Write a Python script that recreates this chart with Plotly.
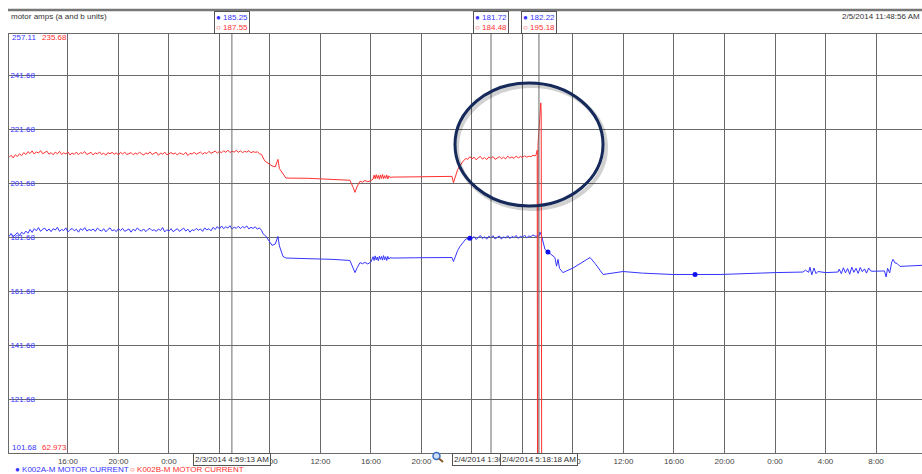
import pandas as pd
import plotly.graph_objects as go

# ---------------- data ----------------
X_RANGE = ["2014-02-02 11:20", "2014-02-05 11:38:30"]
Y_A_RANGE = [101.68, 257.11]     # K002A axis (blue)
Y_B_RANGE = [62.973, 235.68]     # K002B axis (red)
Y_A_TICKS = [121.68, 141.68, 161.68, 181.68, 201.68, 221.68, 241.68]

# K002A-M (blue) ---------------------------------------------
blue_seg1_start = "2014-02-02 11:20"   # 10-min samples
blue_seg1 = [182.0, 183.1, 181.9, 182.8, 183.4, 182.3, 183.6, 182.9, 184.0, 183.2,
             184.6, 183.5, 184.9, 184.1, 185.3, 183.9, 184.7, 185.1, 184.0, 184.8,
             183.8, 184.9, 184.4, 185.4, 183.9, 184.6, 184.2, 185.2, 183.7, 184.5,
             185.0, 184.1, 184.7, 183.6, 184.9, 184.3, 185.3, 184.0, 184.6, 184.2,
             184.8, 183.9, 185.1, 184.4, 184.0, 184.9, 183.7, 184.6, 185.2, 184.1,
             184.5, 183.8, 184.9, 184.2, 185.0, 183.9, 184.4, 184.8, 183.6, 184.7,
             184.1, 185.2, 184.3, 184.0, 184.8, 183.8, 184.6, 185.0, 184.2, 184.5,
             183.9, 184.8, 184.2, 185.3, 183.7, 184.5, 184.0, 184.9, 183.8, 184.4,
             184.9, 183.9, 184.6, 185.1, 184.0, 184.7, 183.6, 184.5, 184.2, 185.0,
             184.3, 184.8, 183.9, 185.2, 184.4, 184.9, 184.1, 185.4, 184.6, 185.7,
             184.8, 185.9, 184.9, 185.6, 185.1, 186.0, 184.7, 185.5, 185.0, 185.8,
             184.9, 185.7, 185.2, 185.9, 184.8, 185.4, 185.0, 185.6, 184.7, 185.2,
             184.3]
blue_pts1 = [("2014-02-03 07:27", 183.0), ("2014-02-03 07:40", 182.2), ("2014-02-03 07:55", 180.3),
             ("2014-02-03 08:10", 178.7), ("2014-02-03 08:25", 179.2), ("2014-02-03 08:38", 182.0),
             ("2014-02-03 08:45", 178.5), ("2014-02-03 09:02", 174.6), ("2014-02-03 09:16", 174.0),
             ("2014-02-03 11:00", 173.8), ("2014-02-03 13:00", 173.5), ("2014-02-03 14:20", 173.1),
             ("2014-02-03 14:35", 170.6), ("2014-02-03 14:44", 168.6), ("2014-02-03 14:55", 170.5),
             ("2014-02-03 15:08", 172.3), ("2014-02-03 15:20", 171.9), ("2014-02-03 15:31", 172.4),
             ("2014-02-03 15:45", 171.8), ("2014-02-03 16:00", 172.6)]
blue_seg2_start = "2014-02-03 16:10"   # 5-min samples
blue_seg2 = [174.5, 173.1, 174.8, 173.3, 174.4, 173.0, 174.7, 173.5, 174.6, 173.2,
             174.9, 173.4, 174.5, 173.1, 174.6, 173.6, 174.1]
blue_pts2 = [("2014-02-03 17:45", 174.0), ("2014-02-03 19:30", 174.1), ("2014-02-03 22:25", 174.2),
             ("2014-02-03 22:32", 172.7), ("2014-02-03 22:40", 174.4), ("2014-02-03 22:52", 176.8),
             ("2014-02-03 23:03", 178.3), ("2014-02-03 23:20", 180.2), ("2014-02-03 23:32", 181.2)]
blue_seg3_start = "2014-02-03 23:40"   # 10-min samples
blue_seg3 = [181.0, 182.2, 181.3, 182.0, 180.9, 181.8, 182.4, 181.2, 181.9, 181.0,
             182.1, 181.5, 182.3, 181.1, 181.7, 182.2, 181.0, 181.9, 181.4, 182.3,
             181.2, 182.0, 181.6, 182.4, 181.3, 182.1, 181.7, 182.5, 181.5, 182.2,
             181.9, 182.6, 182.1]
blue_pts3 = [("2014-02-04 05:10", 182.3), ("2014-02-04 05:18", 182.2), ("2014-02-04 05:23", 183.6),
             ("2014-02-04 05:30", 182.4), ("2014-02-04 05:47", 177.2), ("2014-02-04 06:01", 176.2),
             ("2014-02-04 06:20", 174.9), ("2014-02-04 06:34", 174.2), ("2014-02-04 06:42", 171.0),
             ("2014-02-04 06:49", 173.5), ("2014-02-04 06:56", 170.2), ("2014-02-04 07:12", 168.6),
             ("2014-02-04 08:00", 170.3), ("2014-02-04 08:45", 172.3), ("2014-02-04 09:21", 174.2),
             ("2014-02-04 09:45", 172.0), ("2014-02-04 10:23", 167.9), ("2014-02-04 11:58", 169.0),
             ("2014-02-04 13:30", 168.4), ("2014-02-04 15:55", 167.9), ("2014-02-04 17:40", 167.9),
             ("2014-02-04 19:39", 167.9), ("2014-02-05 00:00", 168.6), ("2014-02-05 02:13", 168.8),
             ("2014-02-05 02:25", 169.5), ("2014-02-05 02:40", 168.7), ("2014-02-05 02:46", 170.6),
             ("2014-02-05 02:55", 167.8), ("2014-02-05 03:05", 170.3), ("2014-02-05 03:15", 168.2),
             ("2014-02-05 03:24", 169.0), ("2014-02-05 04:00", 168.6), ("2014-02-05 04:59", 168.8)]
blue_seg4_start = "2014-02-05 05:05"   # 10-min samples
blue_seg4 = [169.9, 168.2, 170.4, 168.5, 170.1, 168.0, 170.6, 168.7, 170.2, 168.3,
             170.5, 168.9, 170.0, 168.4, 170.3, 169.2]
blue_pts4 = [("2014-02-05 07:41", 169.1), ("2014-02-05 08:40", 169.2), ("2014-02-05 08:48", 167.0),
             ("2014-02-05 08:55", 170.2), ("2014-02-05 09:05", 168.5), ("2014-02-05 09:15", 172.6),
             ("2014-02-05 09:21", 173.5), ("2014-02-05 09:30", 172.2), ("2014-02-05 09:40", 172.0),
             ("2014-02-05 09:54", 170.9), ("2014-02-05 11:00", 171.1), ("2014-02-05 11:40", 171.3)]
blue_dots = [("2014-02-03 23:50", 181.3), ("2014-02-04 06:01", 176.2), ("2014-02-04 17:40", 167.9)]

# K002B-M (red) ----------------------------------------------
red_seg1_start = "2014-02-02 11:20"    # 10-min samples
red_seg1 = [184.8, 185.7, 184.6, 185.9, 185.2, 186.3, 185.5, 186.8, 186.0, 187.2,
            186.4, 187.5, 186.2, 187.1, 186.6, 187.6, 186.3, 186.9, 187.4, 186.1,
            186.8, 185.9, 187.0, 186.3, 187.3, 186.0, 186.7, 186.2, 187.1, 185.8,
            186.6, 186.1, 187.0, 185.9, 186.8, 186.4, 187.2, 186.0, 186.5, 186.9,
            185.8, 186.7, 186.2, 187.1, 186.0, 186.6, 185.7, 186.8, 186.3, 186.9,
            186.1, 186.7, 185.8, 186.9, 186.2, 187.0, 186.0, 186.5, 186.8, 185.9,
            186.6, 186.1, 187.0, 186.3, 185.8, 186.7, 186.2, 187.1, 186.0, 186.5,
            186.9, 185.7, 186.6, 186.1, 187.0, 185.9, 186.4, 186.8, 186.2, 186.6,
            185.8, 186.7, 186.3, 186.0, 186.9, 185.6, 186.5, 186.2, 186.9, 186.1,
            186.6, 187.0, 186.2, 186.8, 186.4, 187.3, 186.5, 186.9, 187.4, 186.6,
            187.3, 186.7, 187.6, 186.9, 187.8, 186.8, 187.4, 187.0, 187.7, 186.9,
            187.5, 186.8, 187.3, 187.0, 187.6, 186.7, 187.2, 186.9, 187.1, 186.4,
            186.0]
red_pts1 = [("2014-02-03 07:35", 183.4), ("2014-02-03 07:50", 182.6), ("2014-02-03 08:10", 181.3),
            ("2014-02-03 08:25", 180.9), ("2014-02-03 08:38", 184.0), ("2014-02-03 08:45", 180.2),
            ("2014-02-03 09:02", 177.9), ("2014-02-03 09:16", 176.3), ("2014-02-03 11:00", 176.2),
            ("2014-02-03 13:00", 175.8), ("2014-02-03 14:20", 175.4), ("2014-02-03 14:35", 172.5),
            ("2014-02-03 14:44", 170.4), ("2014-02-03 14:55", 173.0), ("2014-02-03 15:08", 175.0),
            ("2014-02-03 15:20", 174.6), ("2014-02-03 15:31", 175.3), ("2014-02-03 15:45", 174.8),
            ("2014-02-03 16:00", 175.2)]
red_seg2_start = "2014-02-03 16:10"    # 5-min samples
red_seg2 = [175.9, 177.5, 176.0, 177.7, 176.2, 177.4, 175.8, 177.6, 176.1, 177.8,
            176.0, 177.3, 176.2, 177.6, 175.9, 177.2, 176.6]
red_pts2 = [("2014-02-03 17:45", 176.7), ("2014-02-03 19:30", 176.8), ("2014-02-03 22:25", 177.0),
            ("2014-02-03 22:32", 174.4), ("2014-02-03 22:40", 176.5), ("2014-02-03 22:52", 179.8),
            ("2014-02-03 23:03", 181.4), ("2014-02-03 23:20", 183.5), ("2014-02-03 23:32", 184.4)]
red_seg3_start = "2014-02-03 23:40"    # 10-min samples
red_seg3 = [184.0, 185.1, 184.2, 184.9, 183.8, 184.7, 185.2, 184.1, 184.8, 183.9,
            185.0, 184.4, 185.2, 184.0, 184.6, 185.1, 184.3, 184.9, 184.2, 185.3,
            184.5, 185.0, 184.4, 185.4, 184.6, 185.2, 184.8, 185.5, 184.9, 185.3,
            185.1, 185.7, 185.4]
red_pts3 = [("2014-02-04 05:06", 186.2), ("2014-02-04 05:10", 187.8), ("2014-02-04 05:12", 0.0),
            ("2014-02-04 05:14", 190.5), ("2014-02-04 05:18", 195.2), ("2014-02-04 05:21", 200.0),
            ("2014-02-04 05:24", 203.5), ("2014-02-04 05:27", 207.3), ("2014-02-04 05:29", 203.0),
            ("2014-02-04 05:32", 0.0)]

# cursors
cursor_times = ["2014-02-03 04:59:13", "2014-02-04 01:30:27", "2014-02-04 05:18:18"]
cursor_a = ["185.25", "181.72", "182.22"]
cursor_b = ["187.55", "184.48", "195.18"]
cursor_labels = ["2/3/2014 4:59:13 AM", "2/4/2014 1:30:27 AM", "2/4/2014 5:18:18 AM"]

title_text = "motor amps (a and b units)"
stamp_text = "2/5/2014 11:48:56 AM"
name_a = "K002A-M MOTOR CURRENT"
name_b = "K002B-M MOTOR CURRENT"

# ---------------- assemble ----------------
def grid(start, step_min, vals):
    ts = pd.date_range(start, periods=len(vals), freq=f"{step_min}min")
    return list(ts), list(vals)

def pts(p):
    return [pd.Timestamp(a) for a, _ in p], [b for _, b in p]

def build(parts):
    t, v = [], []
    for tt, vv in parts:
        t += tt
        v += vv
    return t, v

bt, bv = build([grid(blue_seg1_start, 10, blue_seg1), pts(blue_pts1),
                grid(blue_seg2_start, 5, blue_seg2), pts(blue_pts2),
                grid(blue_seg3_start, 10, blue_seg3), pts(blue_pts3),
                grid(blue_seg4_start, 10, blue_seg4), pts(blue_pts4)])
rt, rv = build([grid(red_seg1_start, 10, red_seg1), pts(red_pts1),
                grid(red_seg2_start, 5, red_seg2), pts(red_pts2),
                grid(red_seg3_start, 10, red_seg3), pts(red_pts3)])
dt, dv = pts(blue_dots)

BLUE = "#3535ff"
RED = "#ff3030"
GRID = "#6a6a6a"
FONT = "Liberation Sans"

W, H = 922, 474
L, R, T, B = 9, 0, 34, 21
PW, PH = W - L - R, H - T - B

def px(x):
    return (x - L) / PW

def py(y):
    return (H - B - y) / PH

fig = go.Figure()
fig.add_trace(go.Scatter(x=rt, y=rv, mode="lines", yaxis="y2", name=name_b,
                         line=dict(color=RED, width=1)))
fig.add_trace(go.Scatter(x=bt, y=bv, mode="lines", name=name_a,
                         line=dict(color=BLUE, width=1)))
fig.add_trace(go.Scatter(x=dt, y=dv, mode="markers", showlegend=False,
                         marker=dict(color="#1010ee", size=5)))

tickvals = pd.date_range("2014-02-02 12:00", "2014-02-05 08:00", freq="4h")
ticktext = [("" if i == 0 else f"{t.hour}:00") for i, t in enumerate(tickvals)]

fig.update_layout(
    width=W, height=H, margin=dict(l=L, r=R, t=T, b=B, autoexpand=False),
    paper_bgcolor="white", plot_bgcolor="white", showlegend=False,
    font=dict(family=FONT, size=8, color="#444"),
    xaxis=dict(range=X_RANGE, type="date", tickvals=list(tickvals), ticktext=ticktext,
               showgrid=True, gridcolor=GRID, gridwidth=1, showline=True, linecolor=GRID,
               linewidth=1, mirror=True, ticks="", zeroline=False,
               tickfont=dict(size=8, color="#444", family=FONT)),
    yaxis=dict(range=Y_A_RANGE, tickvals=Y_A_TICKS, ticktext=[f"{v:.2f}" for v in Y_A_TICKS],
               ticklabelposition="inside", showgrid=True, gridcolor=GRID, gridwidth=1,
               showline=True, linecolor=GRID, linewidth=1, ticks="", zeroline=False,
               tickfont=dict(size=8, color=BLUE, family=FONT)),
    yaxis2=dict(range=Y_B_RANGE, overlaying="y", visible=False),
)

shapes = []
# header rule
shapes.append(dict(type="line", xref="paper", yref="paper", x0=px(8), x1=1.0,
                   y0=py(10), y1=py(10), line=dict(color="#777", width=2.5)))
# cursor lines
for ct in cursor_times:
    shapes.append(dict(type="line", xref="x", yref="paper", x0=ct, x1=ct, y0=0, y1=1,
                       line=dict(color=GRID, width=1)))
# highlight ellipse with soft shadow
shapes.append(dict(type="circle", xref="paper", yref="paper",
                   x0=px(457), x1=px(606), y0=py(209), y1=py(86),
                   line=dict(color="rgba(0,0,0,0.18)", width=4)))
shapes.append(dict(type="circle", xref="paper", yref="paper",
                   x0=px(455), x1=px(603), y0=py(206), y1=py(83),
                   line=dict(color="#15295a", width=3)))
# magnifier glyph
shapes.append(dict(type="circle", xref="paper", yref="paper",
                   x0=px(433), x1=px(440), y0=py(459.5), y1=py(452.5),
                   line=dict(color="#3b6fc4", width=1.5), fillcolor="#cfe0f7"))
shapes.append(dict(type="line", xref="paper", yref="paper",
                   x0=px(439), x1=px(443), y0=py(458.5), y1=py(462),
                   line=dict(color="#8a5a2a", width=2)))
fig.update_layout(shapes=shapes)

ann = []
ann.append(dict(text=title_text, xref="paper", yref="paper", x=px(9), y=py(16),
                xanchor="left", yanchor="middle", showarrow=False,
                font=dict(size=8, color="#333")))
ann.append(dict(text=stamp_text, xref="paper", yref="paper", x=1.0, y=py(16),
                xanchor="right", yanchor="middle", showarrow=False,
                font=dict(size=8, color="#333")))
# axis end labels
ann.append(dict(text=f"{Y_A_RANGE[1]:.2f}", xref="paper", yref="paper", x=px(10), y=py(38),
                xanchor="left", yanchor="middle", showarrow=False, font=dict(size=8, color=BLUE)))
ann.append(dict(text=f"{Y_B_RANGE[1]:.2f}", xref="paper", yref="paper", x=px(40), y=py(38),
                xanchor="left", yanchor="middle", showarrow=False, font=dict(size=8, color=RED)))
ann.append(dict(text=f"{Y_A_RANGE[0]:.2f}", xref="paper", yref="paper", x=px(10), y=py(447),
                xanchor="left", yanchor="middle", showarrow=False, font=dict(size=8, color=BLUE)))
ann.append(dict(text=f"{Y_B_RANGE[0]:.3f}", xref="paper", yref="paper", x=px(40), y=py(447),
                xanchor="left", yanchor="middle", showarrow=False, font=dict(size=8, color=RED)))
# cursor readouts
for ct, a, b, lab in zip(cursor_times, cursor_a, cursor_b, cursor_labels):
    ann.append(dict(text=f"<span style='color:{BLUE}'>● {a}</span><br><span style='color:{RED}'>○ {b}</span>",
                    xref="x", yref="paper", x=ct, y=py(22.5), xanchor="center", yanchor="middle",
                    showarrow=False, align="left", bgcolor="white", bordercolor="#555",
                    borderwidth=1, borderpad=1, font=dict(size=8)))
    ann.append(dict(text=lab, xref="x", yref="paper", x=ct, y=py(459), xanchor="center",
                    yanchor="middle", showarrow=False, bgcolor="white", bordercolor="#555",
                    borderwidth=1, borderpad=1, font=dict(size=8, color="#333")))
# legend
ann.append(dict(text=f"● {name_a}", xref="paper", yref="paper", x=px(13), y=py(469.5),
                xanchor="left", yanchor="middle", showarrow=False, font=dict(size=8, color=BLUE)))
ann.append(dict(text=f"○ {name_b}", xref="paper", yref="paper", x=px(128), y=py(469.5),
                xanchor="left", yanchor="middle", showarrow=False, font=dict(size=8, color=RED)))
fig.update_layout(annotations=ann)

fig.write_html("out.html", config={"displayModeBar": False},
               post_script="document.body.style.margin='0px';document.body.style.overflow='hidden';")
